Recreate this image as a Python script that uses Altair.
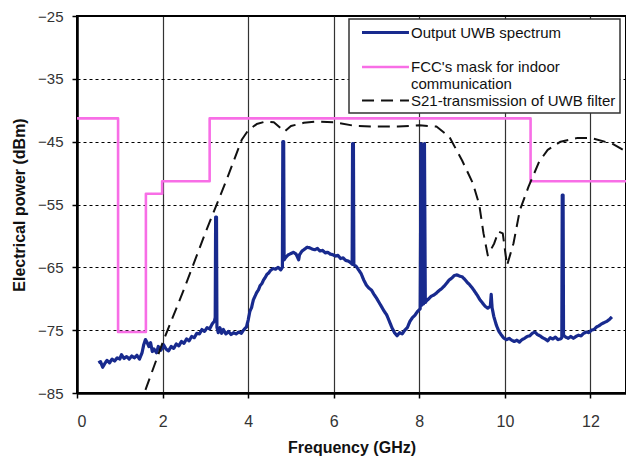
import altair as alt
import pandas as pd

# ---- data ----
series_names = ["Output UWB spectrum",
                "FCC's mask for indoor communication",
                "S21-transmission of UWB filter"]

spec_f = [0.50, 0.55, 0.60, 0.65, 0.70, 0.76, 0.82, 0.88, 0.94, 1.00, 1.04, 1.10, 1.16, 1.22, 1.28,
          1.34, 1.40, 1.46, 1.52, 1.56, 1.60, 1.64, 1.68, 1.72, 1.76, 1.80, 1.86, 1.90, 1.96, 2.02,
          2.08, 2.14, 2.20, 2.26, 2.32, 2.38, 2.44, 2.50, 2.56, 2.62, 2.68, 2.74, 2.80, 2.86, 2.92,
          2.98, 3.04, 3.10, 3.16, 3.21, 3.23, 3.24, 3.26, 3.27, 3.30, 3.34, 3.38, 3.42, 3.48, 3.54,
          3.60, 3.66, 3.72, 3.78, 3.84, 3.90, 3.96, 4.00, 4.04, 4.08, 4.12, 4.16, 4.20, 4.24, 4.28,
          4.32, 4.36, 4.40, 4.44, 4.48, 4.52, 4.58, 4.64, 4.70, 4.76, 4.80, 4.81, 4.83, 4.84, 4.88,
          4.94, 5.00, 5.06, 5.12, 5.18, 5.20, 5.26, 5.32, 5.38, 5.44, 5.50, 5.56, 5.62, 5.68, 5.74,
          5.80, 5.86, 5.92, 5.98, 6.04, 6.10, 6.16, 6.22, 6.28, 6.34, 6.40, 6.43, 6.44, 6.46, 6.47,
          6.52, 6.58, 6.64, 6.70, 6.76, 6.82, 6.88, 6.94, 7.00, 7.06, 7.12, 7.18, 7.24, 7.30, 7.36,
          7.42, 7.48, 7.54, 7.60, 7.66, 7.72, 7.78, 7.84, 7.90, 7.96, 8.02, 8.04, 8.06, 8.08, 8.10,
          8.12, 8.14, 8.16, 8.22,
          8.28, 8.34, 8.40, 8.46, 8.52, 8.58, 8.64, 8.70, 8.76, 8.82, 8.88, 8.94, 9.00, 9.06, 9.12,
          9.18, 9.24, 9.30, 9.36, 9.42, 9.48, 9.54, 9.60, 9.66, 9.68, 9.70, 9.74, 9.80, 9.86, 9.92,
          9.98, 10.04, 10.10, 10.16, 10.22, 10.28, 10.34, 10.40, 10.46, 10.52, 10.58, 10.64, 10.70,
          10.76, 10.82, 10.88, 10.94, 11.00, 11.06, 11.12, 11.18, 11.24, 11.30, 11.33, 11.34, 11.36,
          11.37, 11.42, 11.48, 11.54, 11.60, 11.66, 11.72, 11.78, 11.84, 11.90, 11.96, 12.02, 12.08,
          12.14, 12.20, 12.26, 12.32, 12.38, 12.44, 12.50]
spec_v = [-80.2, -80.0, -80.9, -80.3, -79.8, -80.2, -79.6, -79.9, -79.4, -79.6, -78.9, -79.5, -79.2, -79.6, -79.1,
          -79.4, -79.0, -79.6, -78.6, -77.3, -76.5, -77.0, -77.6, -77.0, -78.4, -78.0, -78.6, -77.6, -78.2, -77.3,
          -78.0, -78.3, -77.6, -77.9, -77.2, -77.5, -76.8, -77.1, -76.4, -76.7, -76.0, -76.2, -75.5, -75.6, -74.9,
          -75.2, -74.6, -74.8, -74.0, -73.6, -73.0, -57.0, -57.0, -74.5, -75.4, -74.6, -75.5, -74.9, -75.6, -75.2,
          -75.7, -75.4, -75.6, -75.3, -75.5, -74.9, -74.5, -73.4, -72.0, -71.4, -70.2, -69.6, -69.0, -68.6, -67.9,
          -67.6, -67.0, -66.6, -66.1, -65.9, -65.5, -65.2, -65.3, -65.0, -65.4, -65.0, -45.0, -45.0, -63.8, -63.4,
          -63.0, -62.8, -62.6, -62.9, -63.8, -63.0, -62.4, -62.1, -61.8, -61.9, -62.1, -62.2, -62.0, -62.4, -62.3,
          -62.7, -62.6, -62.9, -63.0, -63.2, -63.1, -63.6, -63.5, -63.9, -64.0, -64.3, -64.5, -45.3, -45.3, -64.6,
          -64.8, -65.4, -66.0, -67.0, -67.8, -68.3, -68.6, -69.3, -69.9, -70.6, -71.3, -72.0, -72.6, -73.6, -74.6,
          -75.4, -75.9, -75.4, -75.6, -75.0, -74.6, -73.6, -73.0, -72.6, -72.0, -71.6, -45.3, -71.0, -45.5, -70.8,
          -45.3, -70.6, -70.4, -70.0,
          -69.6, -69.4, -69.1, -68.7, -68.4, -68.0, -67.5, -67.0, -66.7, -66.3, -66.2, -66.4, -66.5, -66.9, -67.4,
          -67.8, -68.3, -68.9, -69.5, -70.2, -70.7, -71.2, -71.5, -71.2, -69.3, -71.4, -72.8, -74.2, -75.2, -75.8,
          -76.3, -76.5, -76.3, -76.6, -76.8, -76.6, -76.9, -76.5, -76.3, -76.0, -75.9, -75.5, -75.3,
          -75.7, -75.9, -76.2, -76.4, -76.7, -76.2, -76.4, -76.1, -76.5, -76.4, -76.2, -53.5, -53.5,
          -75.8, -76.1, -76.3, -76.0, -76.3, -76.0, -75.8, -75.9, -75.5, -75.3, -75.4, -75.0, -74.9,
          -74.5, -74.3, -74.0, -73.8, -73.6, -73.3, -72.9]

mask_f = [0, 0.96, 0.96, 1.61, 1.61, 1.99, 1.99, 3.1, 3.1, 10.6, 10.6, 12.9]
mask_v = [-41.3, -41.3, -75.3, -75.3, -53.3, -53.3, -51.3, -51.3, -41.3, -41.3, -51.3, -51.3]

s21_f = [1.6, 2.0, 2.5, 3.0, 3.5, 3.85, 4.0, 4.2, 4.4, 4.6, 4.85, 5.0, 5.3, 5.6, 6.0, 6.5, 7.0, 7.5,
         8.0, 8.4, 8.7, 9.0, 9.25, 9.4, 9.5, 9.6, 9.75, 9.85, 9.95, 10.05, 10.2, 10.35, 10.55, 10.8,
         11.0, 11.3, 11.7, 12.0, 12.5, 12.9]
s21_v = [-84.5, -77.0, -68.5, -59.5, -51.0, -44.7, -43.2, -42.2, -41.8, -41.9, -43.4, -42.5, -42.0,
         -41.8, -41.9, -42.5, -42.6, -42.6, -42.4, -42.6, -44.2, -48.0, -51.6, -55.0, -59.6, -63.1,
         -61.2, -59.3, -59.6, -64.7, -61.2, -55.9, -52.2, -48.2, -46.3, -45.0, -44.4, -44.4, -45.3, -46.8]

x_ticks = [0, 2, 4, 6, 8, 10, 12]
y_ticks = [-85, -75, -65, -55, -45, -35, -25]

# ---- long table ----
rows = []
for name, fs, vs in [(series_names[0], spec_f, spec_v),
                     (series_names[1], mask_f, mask_v),
                     (series_names[2], s21_f, s21_v)]:
    for i, (f, v) in enumerate(zip(fs, vs)):
        rows.append({"series": name, "f": f, "v": v, "i": i})
df = pd.DataFrame(rows)

label_expr = ('datum.label == "FCC\'s mask for indoor communication" ? '
              '["FCC\'s mask for indoor", "communication"] : '
              '(datum.label == "Output UWB spectrum" ? [datum.label, ""] : datum.label)')

legend = alt.Legend(title=None, orient="none", legendX=272, legendY=3,
                    symbolType="M-3.13,0H3.13", symbolSize=225, symbolOffset=23,
                    labelOffset=16, labelLimit=400, labelExpr=label_expr,
                    labelFont="Liberation Sans", labelFontSize=15, labelColor="#111",
                    rowPadding=-2, padding=4, fillColor="white", strokeColor="#333")

chart = alt.Chart(df).mark_line(clip=True, strokeJoin="round").encode(
    x=alt.X("f:Q", scale=alt.Scale(domain=[0, 12.83], nice=False, zero=False),
            axis=alt.Axis(title="Frequency (GHz)", values=x_ticks, grid=True,
                          gridColor="#333", gridWidth=1.2, gridOpacity=1,
                          domainColor="black", domainWidth=2.5,
                          tickColor="black", tickSize=5, tickWidth=1.5,
                          labelFont="Liberation Sans", labelFontSize=16, labelColor="#333",
                          labelPadding=15, titleFont="Liberation Sans", titleFontSize=16,
                          titleFontWeight="bold", titleColor="#111", titleY=54,
                          titleBaseline="middle")),
    y=alt.Y("v:Q", scale=alt.Scale(domain=[-85, -25], nice=False, zero=False),
            axis=alt.Axis(title="Electrical power (dBm)", values=y_ticks, grid=True,
                          gridColor="black", gridDash=[3, 3], gridWidth=1.2, gridOpacity=1,
                          domainColor="black", domainWidth=2.5,
                          tickColor="black", tickSize=5, tickWidth=1.5,
                          labelFont="Liberation Sans", labelFontSize=15, labelColor="#333",
                          labelPadding=9, titleFont="Liberation Sans", titleFontSize=16,
                          titleFontWeight="bold", titleColor="#111", titleX=-58, titleY=188.5,
                          titleAngle=-90, titleAlign="center", titleBaseline="middle")),
    color=alt.Color("series:N",
                    scale=alt.Scale(domain=series_names, range=["#182a8e", "#f86ee6", "#111111"]),
                    legend=legend),
    strokeDash=alt.StrokeDash("series:N",
                              scale=alt.Scale(domain=series_names, range=[[1, 0], [1, 0], [12, 7]]),
                              legend=legend),
    strokeWidth=alt.StrokeWidth("series:N",
                                scale=alt.Scale(domain=series_names, range=[3.2, 2, 2.4]),
                                legend=legend),
    order=alt.Order("i:Q"),
).properties(
    width=549, height=377,
    autosize=alt.AutoSizeParams(type="none"),
    padding={"left": 77, "top": 16, "right": 0, "bottom": 64},
).configure_view(
    stroke="black", strokeWidth=2
).configure_legend(
    strokeWidth=1.5
)

chart.save("out.html", embed_options={"renderer": "svg", "actions": False})
